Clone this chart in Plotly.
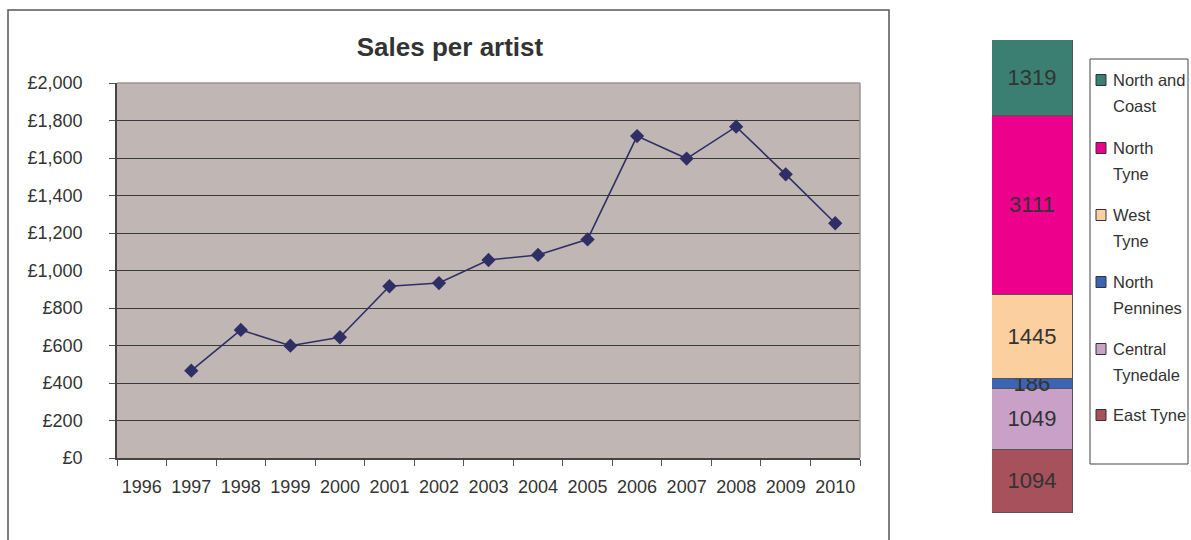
import plotly.graph_objects as go

# ---- data ---------------------------------------------------------------
years = ["1996", "1997", "1998", "1999", "2000", "2001", "2002", "2003",
         "2004", "2005", "2006", "2007", "2008", "2009", "2010"]
sales_per_artist = [None, 466, 683, 599, 644, 916, 933, 1056,
                    1083, 1166, 1717, 1597, 1767, 1513, 1252]

y_tick_values = [0, 200, 400, 600, 800, 1000, 1200, 1400, 1600, 1800, 2000]
y_tick_labels = ["£0", "£200", "£400", "£600", "£800", "£1,000", "£1,200",
                 "£1,400", "£1,600", "£1,800", "£2,000"]

# stacked column, bottom segment first
regions = ["East Tyne", "Central Tynedale", "North Pennines",
           "West Tyne", "North Tyne", "North and Coast"]
region_values = [1094, 1049, 186, 1445, 3111, 1319]
region_colors = ["#a6515c", "#c8a0c8", "#3c64b4",
                 "#fcd09e", "#ec008c", "#3a7f72"]
legend_labels = ["East Tyne", "Central<br>Tynedale", "North<br>Pennines",
                 "West<br>Tyne", "North<br>Tyne", "North and<br>Coast"]

# ---- page geometry helpers (pixel -> paper) --------------------------------
W, H = 1191, 540


def px(x):
    return x / W


def py(y):
    return 1 - y / H


TEXT = "#333333"
FONT = "Liberation Sans, Arial, sans-serif"

fig = go.Figure()

# line chart
fig.add_trace(go.Scatter(
    x=years, y=sales_per_artist, mode="lines+markers",
    line=dict(color="#2f2f66", width=1.6),
    marker=dict(symbol="diamond", size=11, color="#2f2f66"),
    connectgaps=False, showlegend=False, xaxis="x", yaxis="y",
))

# stacked column with values inside each segment
for name, val, col in zip(regions, region_values, region_colors):
    fig.add_trace(go.Bar(
        x=["Total"], y=[val], name=name,
        marker=dict(color=col, line=dict(color="#555555", width=1.2)),
        text=[str(val)], textposition="inside", insidetextanchor="middle",
        textfont=dict(size=22, color=TEXT, family=FONT),
        showlegend=False, xaxis="x2", yaxis="y2", cliponaxis=False,
    ))

shapes = [
    # outer chart frame
    dict(type="rect", xref="paper", yref="paper", x0=px(8), x1=px(889),
         y0=-0.05, y1=py(10), line=dict(color="#555555", width=1.5),
         fillcolor="rgba(0,0,0,0)", layer="below"),
    # light top/right border of the plot area
    dict(type="line", xref="paper", yref="paper", x0=px(117), x1=px(860),
         y0=py(83), y1=py(83), line=dict(color="#9c9692", width=1.5)),
    dict(type="line", xref="paper", yref="paper", x0=px(860), x1=px(860),
         y0=py(83), y1=py(458), line=dict(color="#9c9692", width=1.5)),
    # legend frame
    dict(type="rect", xref="paper", yref="paper", x0=px(1090), x1=px(1188),
         y0=py(464), y1=py(59), line=dict(color="#444444", width=1),
         fillcolor="white"),
]

annotations = []
# legend entries, top of the stack first
item_y = [80, 148, 215, 282, 349, 415]
for i, k in enumerate(reversed(range(len(regions)))):
    cy = item_y[i]
    shapes.append(dict(type="rect", xref="paper", yref="paper",
                       x0=px(1096), x1=px(1106), y0=py(cy + 5.5), y1=py(cy - 5.5),
                       fillcolor=region_colors[k], line=dict(color="#333333", width=1)))
    for j, line in enumerate(legend_labels[k].split("<br>")):
        annotations.append(dict(
            text=line, xref="paper", yref="paper", x=px(1111), y=py(cy + 26 * j),
            xanchor="left", yanchor="middle", showarrow=False,
            font=dict(size=16.5, color=TEXT, family=FONT),
        ))

fig.update_layout(
    width=W, height=H, autosize=False,
    margin=dict(l=0, r=0, t=0, b=0, pad=0, autoexpand=False),
    paper_bgcolor="white",
    plot_bgcolor="#c0b7b4",
    barmode="stack", bargap=0,
    uniformtext=dict(minsize=22, mode="show"),
    title=dict(text="<b>Sales per artist</b>", x=px(450), y=py(47),
               xref="paper", yref="paper", xanchor="center", yanchor="middle",
               automargin=False,
               font=dict(size=26, color=TEXT, family=FONT)),
    xaxis=dict(
        domain=[px(117), px(860)], type="category", anchor="y",
        categoryorder="array", categoryarray=years,
        range=[-0.5, len(years) - 0.5],
        showgrid=False, zeroline=False, automargin=False,
        showline=True, linecolor="#444444", linewidth=1.5,
        ticks="outside", tickson="boundaries", ticklen=6, tickcolor="#555555",
        tickfont=dict(size=18, color=TEXT, family=FONT),
        ticklabelstandoff=12, fixedrange=True,
    ),
    yaxis=dict(
        domain=[py(458), py(83)], range=[0, 2000], anchor="x",
        tickvals=y_tick_values, ticktext=y_tick_labels,
        showgrid=True, gridcolor="#3a3a3a", gridwidth=1, automargin=False,
        zeroline=False, showline=True, linecolor="#444444", linewidth=1.5,
        ticks="outside", ticklen=6, tickcolor="#555555",
        tickfont=dict(size=18, color=TEXT, family=FONT),
        ticklabelstandoff=23, fixedrange=True,
    ),
    xaxis2=dict(domain=[px(992), px(1073)], visible=False, fixedrange=True,
                anchor="y2", automargin=False),
    yaxis2=dict(domain=[py(513), py(40)], range=[0, sum(region_values)],
                visible=False, fixedrange=True, anchor="x2", automargin=False),
    shapes=shapes,
    annotations=annotations,
)

fig.write_html("out.html", config={"displayModeBar": False})
